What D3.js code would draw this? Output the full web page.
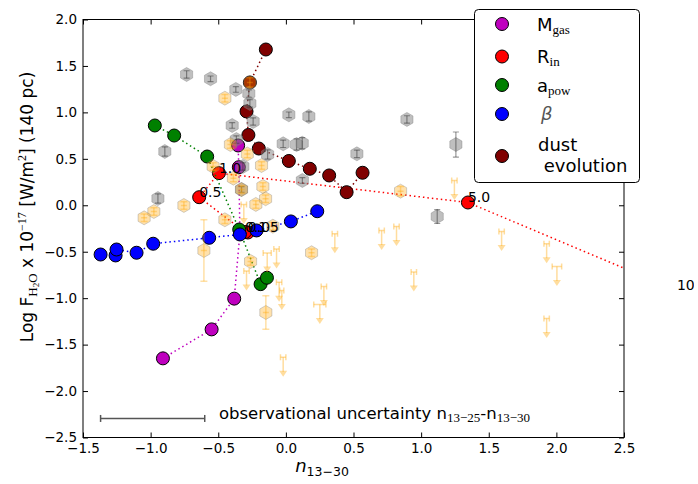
<!DOCTYPE html>
<html>
<head>
<meta charset="utf-8">
<script src="https://cdn.jsdelivr.net/npm/d3@7"></script>
<style>
  html, body { margin: 0; padding: 0; background: #fff; }
  svg { display: block; }
  text { font-family: "DejaVu Sans", sans-serif; }
</style>
</head>
<body>
<svg id="chart" width="694" height="484"></svg>
<script>
// ---- axis ticks ----
const xTicks = [-1.5, -1.0, -0.5, 0.0, 0.5, 1.0, 1.5, 2.0, 2.5];
const yTicks = [-2.5, -2.0, -1.5, -1.0, -0.5, 0.0, 0.5, 1.0, 1.5, 2.0];

// ---- model grids (n13-30, log flux) ----
const mgasX = [-0.909, -0.549, -0.382, -0.340, -0.348, -0.353];
const mgasY = [-1.648, -1.336, -1.005, -0.302, 0.410, 0.644];

const rinX = [-0.281, -0.303, -0.641, -0.495, 1.346, 2.891];
const rinY = [-0.293, -0.288, 0.087, 0.346, 0.030, -0.917];
const rinLabels = ["0.05", "0.1", "0.5", "1.0", "5.0", "10"];

const apowX = [-0.969, -0.826, -0.582, -0.345, -0.187, -0.140];
const apowY = [0.859, 0.751, 0.525, -0.261, -0.849, -0.780];

const betaX = [-1.370, -1.259, -1.252, -1.104, -0.981, -0.567, -0.340, -0.217, 0.037, 0.232];
const betaY = [-0.530, -0.540, -0.476, -0.511, -0.414, -0.350, -0.314, -0.271, -0.174, -0.064];

const dustX = [-0.148, -0.266, -0.291, -0.277, -0.200, 0.022, 0.177, 0.320, 0.449, 0.567];
const dustY = [1.677, 1.322, 1.010, 0.757, 0.611, 0.477, 0.393, 0.321, 0.141, 0.350];

// ---- observed sources: grey sample ----
const greyX = [-0.734, -0.557, -0.370, -0.274, -0.266, -0.242, -0.397, -0.366, -0.895, -0.135,
               -0.318, 0.022, 0.170, -0.020, 0.079, 0.121, 0.122, 0.525, 0.895, 1.257,
               1.119, -0.946, -0.328];
const greyY = [1.408, 1.362, 1.247, 1.203, 1.096, 0.902, 0.859, 0.708, 0.579, 0.547,
               0.418, 0.974, 0.956, 0.662, 0.654, 0.668, 0.267, 0.554, 0.924, 0.654,
               -0.121, 0.073, 0.170];
const greyErr = [0.04, 0.03, 0.03, 0.04, 0.04, 0.04, 0.03, 0.04, 0.05, 0.05,
                 0.04, 0.03, 0.05, 0.04, 0.06, 0.06, 0.03, 0.04, 0.04, 0.135,
                 0.075, 0.05, 0.03];

// ---- observed sources: orange sample (detections) ----
const orangeX = [-0.451, -0.410, -0.285, -0.180, -0.388, -0.170, -0.150, -0.222, -0.754, -0.976,
                 -1.048, -0.538, -0.328, -0.451, -0.261, 0.190, -0.606, -0.148, -0.096, 0.848,
                 -0.266];
const orangeY = [1.153, 0.654, 0.552, 0.428, 0.292, 0.202, 0.070, 0.009, -0.002, -0.067,
                 -0.135, 0.418, 0.170, -0.156, -0.605, -0.511, -0.487, -1.154, -0.225, 0.152,
                 1.322];
const orangeErr = [0.04, 0.04, 0.04, 0.04, 0.04, 0.04, 0.04, 0.04, 0.04, 0.04,
                   0.04, 0.04, 0.04, 0.04, 0.04, 0.04, 0.33, 0.18, 0.04, 0.05,
                   0.05];

// ---- observed sources: orange sample (upper limits) ----
const limX = [0.362, -0.069, -0.138, -0.050, -0.030, 0.281, 0.251, 0.708, 0.818, 0.946,
              1.595, 1.928, 2.004, 1.928, -0.020, -0.291, -0.311, 1.246];
const limY = [-0.307, -0.470, -0.513, -0.828, -0.917, -0.874, -1.068, -0.271, -0.228, -0.718,
              -0.282, -0.414, -0.659, -1.219, -1.635, -0.707, 0.009, 0.267];
const limXErr = [0.02, 0.02, 0.03, 0.02, 0.015, 0.02, 0.045, 0.02, 0.02, 0.02,
                 0.02, 0.02, 0.035, 0.02, 0.02, 0.02, 0.02, 0.02];
const limLength = 0.21;

// ---- typical uncertainty bar ----
const obsUncX = [-1.37, -0.60];
const obsUncY = -2.295;

// ---------------------------------------------------------------
const svg = d3.select("#chart");
const x = d3.scaleLinear().domain([-1.5, 2.5]).range([83, 624]);
const y = d3.scaleLinear().domain([-2.5, 2.0]).range([437.5, 19.5]);

svg.append("defs").append("clipPath").attr("id", "plotClip")
  .append("rect").attr("x", 83).attr("y", 19.5).attr("width", 541).attr("height", 418);

const plot = svg.append("g").attr("clip-path", "url(#plotClip)");

function hexPath(cx, cy, r) {
  const pts = d3.range(6).map(k => {
    const a = Math.PI / 180 * (60 * k - 90);
    return [cx + r * Math.cos(a), cy + r * Math.sin(a)];
  });
  return "M" + pts.map(p => p.join(",")).join("L") + "Z";
}

// model tracks: dotted line + markers
const series = [
  { xs: mgasX, ys: mgasY, color: "#bf00bf" },
  { xs: rinX,  ys: rinY,  color: "#ff0000" },
  { xs: apowX, ys: apowY, color: "#008000" },
  { xs: betaX, ys: betaY, color: "#0000ff" },
  { xs: dustX, ys: dustY, color: "#800000" }
];
series.forEach(s => {
  const pts = s.xs.map((v, i) => [x(v), y(s.ys[i])]);
  plot.append("path")
    .attr("d", d3.line()(pts))
    .attr("fill", "none")
    .attr("stroke", s.color)
    .attr("stroke-width", 1.5)
    .attr("stroke-dasharray", "1.5,3");
  plot.append("g").selectAll("circle").data(pts).join("circle")
    .attr("cx", d => d[0]).attr("cy", d => d[1]).attr("r", 6.5)
    .attr("fill", s.color).attr("stroke", "#000").attr("stroke-width", 1);
});

// grey sample hexagons with error bars
const greyG = plot.append("g");
greyX.forEach((v, i) => {
  const cx = x(v), cy = y(greyY[i]);
  greyG.append("path").attr("d", hexPath(cx, cy, 7))
    .attr("fill", "#808080").attr("fill-opacity", 0.5)
    .attr("stroke", "#808080").attr("stroke-opacity", 0.4);
  const y0 = y(greyY[i] - greyErr[i]), y1 = y(greyY[i] + greyErr[i]);
  const eb = greyG.append("g").attr("stroke", "#333").attr("stroke-opacity", 0.5).attr("stroke-width", 1.2);
  eb.append("line").attr("x1", cx).attr("x2", cx).attr("y1", y0).attr("y2", y1);
  eb.append("line").attr("x1", cx - 3).attr("x2", cx + 3).attr("y1", y0).attr("y2", y0);
  eb.append("line").attr("x1", cx - 3).attr("x2", cx + 3).attr("y1", y1).attr("y2", y1);
});

// orange sample hexagons with error bars
const orG = plot.append("g");
orangeX.forEach((v, i) => {
  const cx = x(v), cy = y(orangeY[i]);
  orG.append("path").attr("d", hexPath(cx, cy, 7))
    .attr("fill", "#ffa500").attr("fill-opacity", 0.33)
    .attr("stroke", "#808080").attr("stroke-opacity", 0.35);
  const y0 = y(orangeY[i] - orangeErr[i]), y1 = y(orangeY[i] + orangeErr[i]);
  const eb = orG.append("g").attr("stroke", "#ffa500").attr("stroke-opacity", 0.35).attr("stroke-width", 1.5);
  eb.append("line").attr("x1", cx).attr("x2", cx).attr("y1", y0).attr("y2", y1);
  eb.append("line").attr("x1", cx - 3.5).attr("x2", cx + 3.5).attr("y1", y0).attr("y2", y0);
  eb.append("line").attr("x1", cx - 3.5).attr("x2", cx + 3.5).attr("y1", y1).attr("y2", y1);
  eb.append("line").attr("x1", cx - 3).attr("x2", cx + 3).attr("y1", cy).attr("y2", cy);
});

// orange sample upper limits
const limG = plot.append("g").attr("stroke", "#ffa500").attr("stroke-opacity", 0.38)
  .attr("fill", "#ffa500").attr("fill-opacity", 0.38).attr("stroke-width", 1.5);
limX.forEach((v, i) => {
  const cx = x(v), cy = y(limY[i]), tip = y(limY[i] - limLength);
  const xl = x(v - limXErr[i]), xr = x(v + limXErr[i]);
  limG.append("line").attr("x1", xl).attr("x2", xr).attr("y1", cy).attr("y2", cy);
  limG.append("line").attr("x1", xl).attr("x2", xl).attr("y1", cy - 3).attr("y2", cy + 3);
  limG.append("line").attr("x1", xr).attr("x2", xr).attr("y1", cy - 3).attr("y2", cy + 3);
  limG.append("line").attr("x1", cx).attr("x2", cx).attr("y1", cy).attr("y2", tip - 5);
  limG.append("path").attr("stroke", "none")
    .attr("d", `M${cx - 4},${tip - 6}L${cx + 4},${tip - 6}L${cx},${tip}Z`);
});

// R_in annotations (not clipped)
const annG = svg.append("g");
rinX.forEach((v, i) => {
  annG.append("text").attr("x", x(v)).attr("y", y(rinY[i]))
    .attr("font-size", 14).attr("fill", "#000").text(rinLabels[i]);
});

// typical uncertainty bar
const uncG = svg.append("g").attr("stroke", "#555").attr("stroke-width", 1.5);
const uy = y(obsUncY);
uncG.append("line").attr("x1", x(obsUncX[0])).attr("x2", x(obsUncX[1])).attr("y1", uy).attr("y2", uy);
obsUncX.forEach(v => uncG.append("line").attr("x1", x(v)).attr("x2", x(v)).attr("y1", uy - 3.5).attr("y2", uy + 3.5));

const uncText = svg.append("text").attr("x", x(-0.495)).attr("y", uy + 1)
  .attr("font-size", 16.5).attr("fill", "#000");
uncText.append("tspan").text("observational uncertainty n");
uncText.append("tspan").attr("font-family", "Liberation Serif, serif").attr("font-size", 13).attr("dy", 3).text("13\u221225");
uncText.append("tspan").attr("dy", -3).text("-n");
uncText.append("tspan").attr("font-family", "Liberation Serif, serif").attr("font-size", 13).attr("dy", 3).text("13\u221230");

// axes
const fmt = d3.format(".1f");
const xAxis = svg.append("g").attr("transform", "translate(0,437.5)")
  .call(d3.axisBottom(x).tickValues(xTicks).tickFormat(fmt).tickSizeInner(-5).tickSizeOuter(0).tickPadding(6));
const xTop = svg.append("g").attr("transform", "translate(0,19.5)")
  .call(d3.axisTop(x).tickValues(xTicks).tickFormat("").tickSizeInner(-5).tickSizeOuter(0));
const yAxis = svg.append("g").attr("transform", "translate(83,0)")
  .call(d3.axisLeft(y).tickValues(yTicks).tickFormat(fmt).tickSizeInner(-5).tickSizeOuter(0).tickPadding(6));
const yRight = svg.append("g").attr("transform", "translate(624,0)")
  .call(d3.axisRight(y).tickValues(yTicks).tickFormat("").tickSizeInner(-5).tickSizeOuter(0));
[xAxis, xTop, yAxis, yRight].forEach(g => {
  g.select(".domain").remove();
  g.selectAll("line").attr("stroke", "#000");
  g.selectAll("text").attr("font-size", 13.5).attr("fill", "#000").attr("font-family", "DejaVu Sans, sans-serif");
});
svg.append("rect").attr("x", 83).attr("y", 19.5).attr("width", 541).attr("height", 418)
  .attr("fill", "none").attr("stroke", "#000").attr("stroke-width", 1);

// axis titles
const xl = svg.append("text").attr("x", 322).attr("y", 472).attr("text-anchor", "middle")
  .attr("font-family", "Liberation Serif, serif").attr("fill", "#000");
xl.append("tspan").attr("font-style", "italic").attr("font-size", 18).text("n");
xl.append("tspan").attr("font-size", 12.5).attr("dy", 4).text("13\u221230");

const yl = svg.append("text").attr("transform", "translate(33,207) rotate(-90)")
  .attr("text-anchor", "middle").attr("font-size", 17).attr("fill", "#000");
yl.append("tspan").text("Log F");
yl.append("tspan").attr("font-family", "Liberation Serif, serif").attr("font-size", 13).attr("dy", 4).text("H");
yl.append("tspan").attr("font-family", "Liberation Serif, serif").attr("font-size", 9).attr("dy", 2).text("2");
yl.append("tspan").attr("font-family", "Liberation Serif, serif").attr("font-size", 13).attr("dy", -2).text("O");
yl.append("tspan").attr("dy", -4).text(" x 10");
yl.append("tspan").attr("font-family", "Liberation Serif, serif").attr("font-size", 12).attr("dy", -7).text("\u221217");
yl.append("tspan").attr("dy", 7).text(" [W/m");
yl.append("tspan").attr("font-family", "Liberation Serif, serif").attr("font-size", 12).attr("dy", -7).text("2");
yl.append("tspan").attr("dy", 7).text("] (140 pc)");

// legend
const legend = svg.append("g");
legend.append("rect").attr("x", 474.5).attr("y", 9.5).attr("width", 165).attr("height", 173)
  .attr("rx", 4).attr("fill", "#fff").attr("stroke", "#000").attr("stroke-width", 1);
const legItems = [
  { color: "#bf00bf", cy: 24,  main: "M", sub: "gas" },
  { color: "#ff0000", cy: 56.5, main: "R", sub: "in" },
  { color: "#008000", cy: 85,  main: "a", sub: "pow" },
  { color: "#0000ff", cy: 114, main: "", greek: "\u03b2" },
  { color: "#800000", cy: 156, lines: ["dust", "\u00a0evolution"] }
];
legItems.forEach(it => {
  legend.append("circle").attr("cx", 502).attr("cy", it.cy).attr("r", 6.5)
    .attr("fill", it.color).attr("stroke", "#000").attr("stroke-width", 1);
  if (it.lines) {
    legend.append("text").attr("x", 538).attr("y", 151).attr("font-size", 18).text(it.lines[0]);
    legend.append("text").attr("x", 538).attr("y", 172).attr("font-size", 18).text(it.lines[1]);
  } else if (it.greek) {
    legend.append("text").attr("x", 541).attr("y", it.cy + 6).attr("font-size", 18)
      .attr("font-family", "Liberation Serif, serif").attr("font-style", "italic").attr("fill", "#555").text(it.greek);
  } else {
    const t = legend.append("text").attr("x", 537).attr("y", it.cy + 6.5).attr("font-size", 18);
    t.append("tspan").text(it.main);
    t.append("tspan").attr("font-family", "Liberation Serif, serif").attr("font-size", 13).attr("dy", 3).text(it.sub);
  }
});
</script>
</body>
</html>
